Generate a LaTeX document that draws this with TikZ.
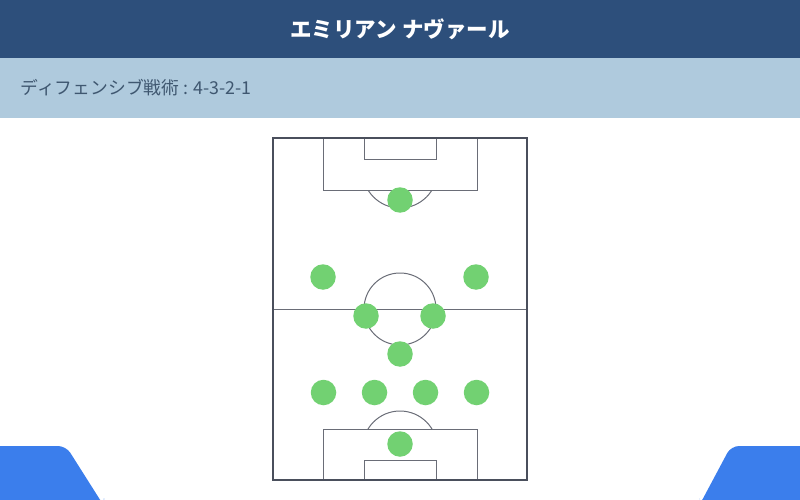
\documentclass[tikz,border=0pt]{standalone}
\usepackage{fontspec}
\newfontfamily\jpfont{Noto Sans CJK JP}
\usetikzlibrary{positioning}
\definecolor{hdrdark}{HTML}{2D4F7B}
\definecolor{hdrlight}{HTML}{AFCADD}
\definecolor{subtxt}{HTML}{3F5770}
\definecolor{playergreen}{HTML}{72D172}
\definecolor{tabblue}{HTML}{3B7EEC}
\definecolor{pitchline}{HTML}{4A4F5C}
\definecolor{markline}{HTML}{6A6D77}

\begin{document}
\begin{tikzpicture}[x=1pt,y=-1pt,
    player/.style={circle,fill=playergreen,minimum size=25.5pt,inner sep=0pt},
    border/.style={draw=pitchline,line width=1.6pt},
    marking/.style={draw=markline,line width=1pt}]
    \useasboundingbox (0,0) rectangle (800,500);
    % header bands
    \fill [hdrdark] (0,0) rectangle (800,58);
    \fill [hdrlight] (0,58) rectangle (800,118);
    \node (title) at (400,29) {\jpfont\bfseries\fontsize{21.5}{24}\selectfont\color{white}エミリアン ナヴァール};
    \node [anchor=west] (tactic) at (17,88) {\jpfont\fontsize{17.8}{20}\selectfont\color{subtxt}ディフェンシブ戦術 : 4-3-2-1};
    % bottom tabs
    \fill [tabblue] (0,500) -- (0,446) {[rounded corners=8pt] -- (66,446) -- (104,506)} -- (104,500) -- cycle;
    \fill [tabblue] (800,500) -- (800,446) {[rounded corners=8pt] -- (731,446) -- (699,506)} -- (699,500) -- cycle;
    % pitch
    \draw [marking] (273,309) -- (527,309);
    \draw [marking] (400,309) circle (36);
    \draw [marking] (323,138) rectangle (477,190);
    \draw [marking] (364,138) rectangle (436,159);
    \draw [marking] (323,480) rectangle (477,429);
    \draw [marking] (364,480) rectangle (436,460);
    \begin{scope}
        \clip (300,190) rectangle (500,230);
        \draw [marking] (400,170.6) circle (37.4);
    \end{scope}
    \begin{scope}
        \clip (300,400) rectangle (500,429);
        \draw [marking] (400,448.4) circle (37.4);
    \end{scope}
    \draw [border] (273,138) rectangle (527,480);
    % players
    \node [player] (gktop) at (400,200) {};
    \node [player] (wl) at (323,277) {};
    \node [player] (wr) at (476,277) {};
    \node [player] (ml) at (366,316) {};
    \node [player] (mr) at (433,316) {};
    \node [player] (dm) at (400,354) {};
    \node [player] (lb) at (323.5,392.5) {};
    \node [player] (lcb) at (374.5,392.5) {};
    \node [player] (rcb) at (425.5,392.5) {};
    \node [player] (rb) at (476.5,392.5) {};
    \node [player] (gk) at (400,444) {};
\end{tikzpicture}
\end{document}
